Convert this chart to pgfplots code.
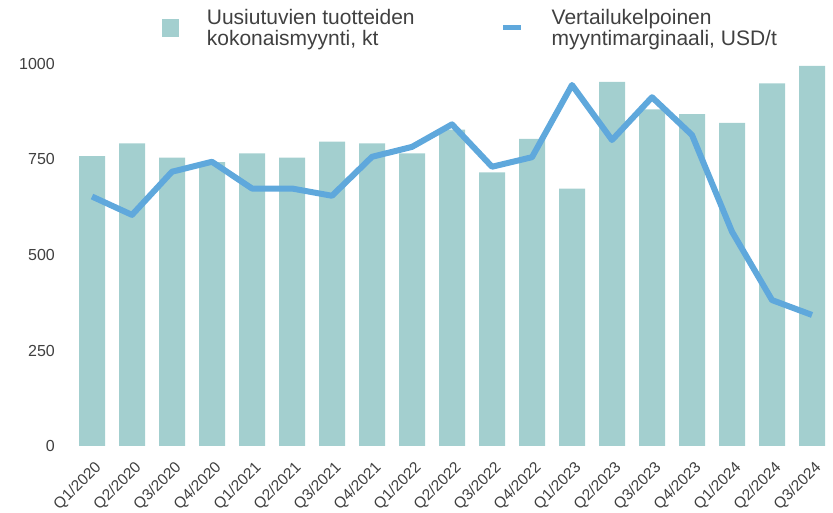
\documentclass[border=0pt]{standalone}
\usepackage{fontspec}
\setmainfont{Liberation Sans}
\usepackage{pgfplots}
\pgfplotsset{compat=1.18}
\definecolor{barcol}{HTML}{A3CFCF}
\definecolor{linecol}{HTML}{5FA8DC}
\definecolor{txt}{HTML}{404040}
\pgfplotstableread{
x bar line
0 759 653
1 792 605
2 755 718
3 743 744
4 766 674
5 755 674
6 797 655
7 792 757
8 766 783
9 828 842
10 716 731
11 804 756
12 674 945
13 953 801
14 881 913
15 869 814
16 846 561
17 949 382
18 995 343
}\datatable
\begin{document}
\begin{tikzpicture}[x=1bp,y=1bp]
\useasboundingbox (0,0) rectangle (833,513);
\begin{axis}[
  at={(72bp,67bp)}, anchor=south west,
  width=760bp, height=382bp, scale only axis,
  xmin=-0.5, xmax=18.5, ymin=0, ymax=1000,
  clip=false,
  axis line style={draw=none},
  major tick length=0pt,
  ytick={0,250,500,750,1000},
  /pgf/number format/assume math mode=true,
  /pgf/number format/1000 sep={},
  yticklabel style={font=\fontsize{16bp}{18bp}\selectfont, text=txt, anchor=east, inner sep=0pt, xshift=-17bp},
  xtick={0,...,18},
  xticklabels={Q1/2020,Q2/2020,Q3/2020,Q4/2020,Q1/2021,Q2/2021,Q3/2021,Q4/2021,Q1/2022,Q2/2022,Q3/2022,Q4/2022,Q1/2023,Q2/2023,Q3/2023,Q4/2023,Q1/2024,Q2/2024,Q3/2024},
  xticklabel style={font=\fontsize{15.5bp}{17bp}\selectfont, text=txt, inner sep=0pt, xshift=7bp, yshift=-19bp, rotate=45, anchor=east},
  legend columns=2,
  legend style={draw=none, fill=none, at={(0.118,1.15)}, anchor=north west, inner sep=0pt,
    font=\fontsize{21bp}{21bp}\selectfont, text=txt,
    cells={align=left, anchor=west},
    /tikz/every odd column/.append style={column sep=26bp},
    /tikz/every even column/.append style={column sep=84bp}},
]
\addplot[ybar, bar width=26bp, bar shift=0pt, fill=barcol, draw=none,
  legend image code/.code={\fill[barcol] (0bp,-9bp) rectangle (17bp,9bp);}]
  table[x=x, y=bar] {\datatable};
\addlegendentry{Uusiutuvien tuotteiden\\kokonaismyynti, kt}
\addplot[linecol, line width=6bp, line join=round, mark=none,
  legend image code/.code={\draw[linecol, line width=5bp] (0bp,0bp) -- (18bp,0bp);}]
  table[x=x, y=line] {\datatable};
\addlegendentry{Vertailukelpoinen\\myyntimarginaali, USD/t}
\end{axis}
\end{tikzpicture}
\end{document}
